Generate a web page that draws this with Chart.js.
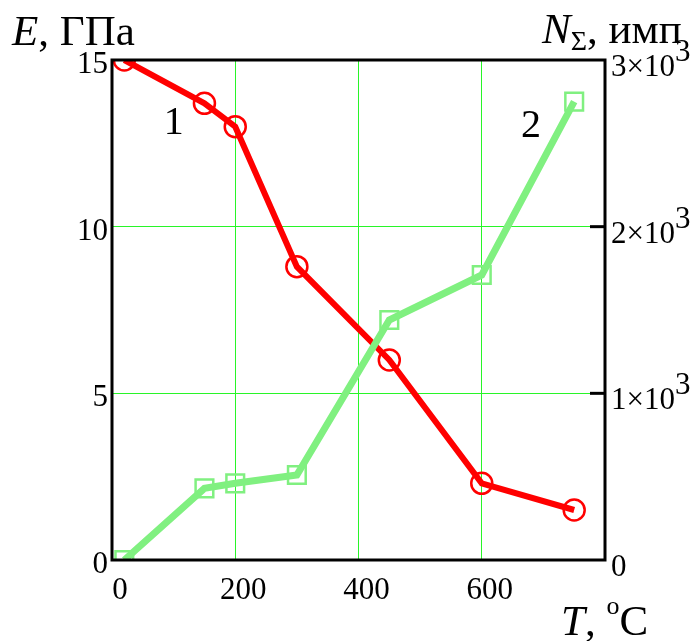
<!DOCTYPE html>
<html>
<head>
<meta charset="utf-8">
<script src="https://cdn.jsdelivr.net/npm/chart.js@4"></script>
<style>
  html, body { margin: 0; padding: 0; background: #fff; }
  #wrap { width: 692px; height: 641px; }
</style>
</head>
<body>
<div id="wrap"><canvas id="chart" width="692" height="641"></canvas></div>
<script>
const temps = [20, 150, 200, 300, 450, 600, 750];
const modulus = [15, 13.7, 13.0, 8.8, 6.0, 2.3, 1.5];
const counts = [0, 430, 460, 510, 1440, 1710, 2750];
const xTicks = [0, 200, 400, 600];
const curveLabels = [
  { text: "1", x: 100, y: 13.1, axis: "y" },
  { text: "2", x: 680, y: 2600, axis: "y2" }
];

const FONT = "'Liberation Serif', 'DejaVu Serif', serif";
const GRID = "rgb(40, 245, 40)";

function pt(xs, ys) {
  return xs.map(function (x, i) { return { x: x, y: ys[i] }; });
}

const decor = {
  id: "decor",
  afterDraw: function (chart) {
    const ctx = chart.ctx;
    const a = chart.chartArea;
    const y2 = chart.scales.y2;
    ctx.save();

    // frame
    ctx.strokeStyle = "#000";
    ctx.lineWidth = 3;
    ctx.strokeRect(a.left, a.top, a.right - a.left, a.bottom - a.top);

    // inward ticks and labels of the right axis
    ctx.fillStyle = "#000";
    ctx.textBaseline = "alphabetic";
    ctx.textAlign = "left";
    y2.ticks.forEach(function (t) {
      const py = y2.getPixelForValue(t.value);
      if (t.value > 0 && t.value < 3000) {
        ctx.beginPath();
        ctx.moveTo(a.right - 15, py);
        ctx.lineTo(a.right, py);
        ctx.stroke();
      }
      ctx.font = "31px " + FONT;
      if (t.value === 0) {
        ctx.fillText("0", a.right + 6, py + 16);
      } else {
        const base = (t.value / 1000) + "×10";
        ctx.fillText(base, a.right + 6, py + 16);
        const w = ctx.measureText(base).width;
        ctx.fillText("3", a.right + 6 + w, py + 1);
      }
    });

    // curve numbers
    ctx.font = "40px " + FONT;
    ctx.textAlign = "center";
    ctx.textBaseline = "middle";
    curveLabels.forEach(function (c) {
      ctx.fillText(c.text, chart.scales.x.getPixelForValue(c.x), chart.scales[c.axis].getPixelForValue(c.y));
    });

    // axis titles
    ctx.textAlign = "left";
    ctx.textBaseline = "alphabetic";
    let x = 12;
    ctx.font = "italic 43px " + FONT;
    ctx.fillText("E", x, 45);
    x += ctx.measureText("E").width;
    ctx.font = "43px " + FONT;
    ctx.fillText(", ГПа", x, 45);

    x = 542;
    ctx.font = "italic 43px " + FONT;
    ctx.fillText("N", x, 43);
    x += ctx.measureText("N").width;
    ctx.font = "28px " + FONT;
    ctx.fillText("Σ", x, 50);
    x += ctx.measureText("Σ").width;
    ctx.font = "43px " + FONT;
    ctx.fillText(", имп", x, 43);

    x = 561;
    ctx.font = "italic 43px " + FONT;
    ctx.fillText("T", x, 635);
    x += ctx.measureText("T").width;
    ctx.font = "43px " + FONT;
    ctx.fillText(", ", x, 635);
    x += ctx.measureText(", ").width;
    ctx.font = "26px " + FONT;
    ctx.fillText("o", x, 614);
    x += ctx.measureText("o").width;
    ctx.font = "43px " + FONT;
    ctx.fillText("C", x, 635);

    ctx.restore();
  }
};

new Chart(document.getElementById("chart"), {
  type: "line",
  data: {
    datasets: [{
        data: pt(temps, modulus),
        yAxisID: "y",
        borderColor: "#ff0000",
        borderWidth: 6,
        pointStyle: "circle",
        pointRadius: 10.5,
        pointBorderWidth: 2.5,
        pointBorderColor: "#ff0000",
        pointBackgroundColor: "rgba(0,0,0,0)",
        fill: false,
        order: 1
      },
      {
        data: pt(temps, counts),
        yAxisID: "y2",
        borderColor: "#80f080",
        borderWidth: 7,
        pointStyle: "rect",
        pointRadius: 12.5,
        pointBorderWidth: 2.5,
        pointBorderColor: "#80f080",
        pointBackgroundColor: "rgba(0,0,0,0)",
        fill: false,
        order: 0
      }
    ]
  },
  options: {
    responsive: false,
    animation: false,
    layout: { padding: { top: 60, left: 0, right: 0, bottom: 0 } },
    plugins: { legend: { display: false }, tooltip: { enabled: false } },
    scales: {
      x: {
        type: "linear",
        min: 0,
        max: 800,
        afterBuildTicks: function (s) { s.ticks = xTicks.map(function (v) { return { value: v }; }); },
        afterFit: function (s) { s.height = 81; },
        ticks: { color: "#000", font: { family: FONT, size: 31 }, padding: 12, labelOffset: 8, maxRotation: 0 },
        grid: {
          color: function (c) { return c.tick && c.tick.value > 0 && c.tick.value < 800 ? GRID : "rgba(0,0,0,0)"; },
          lineWidth: 1,
          drawTicks: false
        },
        border: { display: false }
      },
      y: {
        position: "left",
        min: 0,
        max: 15,
        ticks: { stepSize: 5, color: "#000", font: { family: FONT, size: 31 }, padding: 4, labelOffset: 5 },
        afterFit: function (s) { s.width = 112; },
        grid: {
          color: function (c) { return c.tick && c.tick.value > 0 && c.tick.value < 15 ? GRID : "rgba(0,0,0,0)"; },
          lineWidth: 1,
          drawTicks: false
        },
        border: { display: false }
      },
      y2: {
        position: "right",
        min: 0,
        max: 3000,
        ticks: { stepSize: 1000, display: false },
        afterFit: function (s) { s.width = 87; },
        grid: { drawOnChartArea: false, drawTicks: false },
        border: { display: false }
      }
    }
  },
  plugins: [decor]
});
</script>
</body>
</html>
